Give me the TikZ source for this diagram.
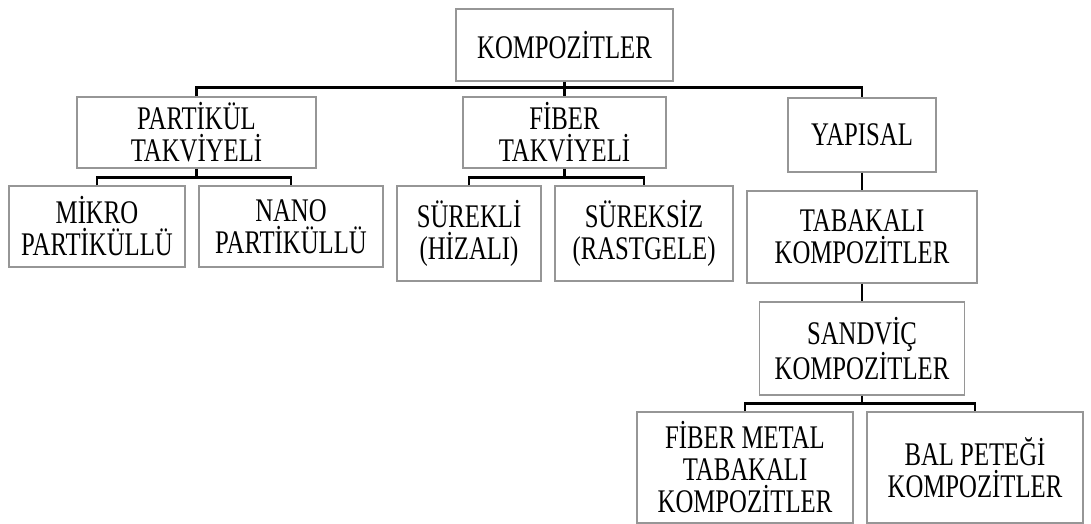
\documentclass[tikz,border=0pt]{standalone}
\usepackage{fontspec}
\usepackage{xcolor}
\usepackage{tikz}
\setmainfont{Liberation Serif}[FakeStretch=0.75]
\definecolor{boxgray}{RGB}{150, 150, 150}

\tikzset{
	kbox/.style = {draw = boxgray, line width = 1.3pt, inner sep = 0pt, align = center,
		font = \fontsize{33}{32}\selectfont},
	kline/.style = {line width = 2.4pt, black}
}

\begin{document}
\begin{tikzpicture}[x = 1pt, y = -1pt]
	\useasboundingbox (0,0) rectangle (1091,524);
	\node (root) at (564.5,45) [kbox, minimum width = 217pt, minimum height = 72pt] {KOMPOZİTLER};
	\node (part) at (196.5,132.5) [kbox, minimum width = 239pt, minimum height = 71pt] {PARTİKÜL\\TAKVİYELİ};
	\node (fib) at (564.5,132.5) [kbox, minimum width = 203pt, minimum height = 71pt] {FİBER\\TAKVİYELİ};
	\node (yap) at (862,135) [kbox, minimum width = 148pt, minimum height = 74pt] {YAPISAL};
	\node (mikro) at (97,226.5) [kbox, minimum width = 176pt, minimum height = 81pt] {MİKRO\\PARTİKÜLLÜ};
	\node (nano) at (291,226.5) [kbox, minimum width = 184pt, minimum height = 81pt] {NANO\\PARTİKÜLLÜ};
	\node (surekli) at (469,233.5) [kbox, minimum width = 144pt, minimum height = 95pt] {SÜREKLİ\\(HİZALI)};
	\node (sureksiz) at (644,233.5) [kbox, minimum width = 178pt, minimum height = 95pt] {SÜREKSİZ\\(RASTGELE)};
	\node (tab) at (862,237) [kbox, minimum width = 230pt, minimum height = 92pt] {TABAKALI\\KOMPOZİTLER};
	\node (sand) at (862,348.5) [kbox, minimum width = 205pt, minimum height = 93pt] {SANDVİÇ\\KOMPOZİTLER};
	\node (fml) at (745,467.5) [kbox, minimum width = 216pt, minimum height = 111pt] {FİBER METAL\\TABAKALI\\KOMPOZİTLER};
	\node (bal) at (975,467.5) [kbox, minimum width = 216pt, minimum height = 111pt] {BAL PETEĞİ\\KOMPOZİTLER};
	% connectors
	\draw[kline] (root.south) -- ++(0,6) coordinate (b1);
	\draw[kline] (part.north) |- (b1) -| (yap.north);
	\draw[kline] (b1) -- (fib.north);
	\draw[kline] (part.south) -- ++(0,9) coordinate (b2);
	\draw[kline] (mikro.north) |- (b2) -| (nano.north);
	\draw[kline] (fib.south) -- ++(0,9) coordinate (b3);
	\draw[kline] (surekli.north) |- (b3) -| (sureksiz.north);
	\draw[kline] (yap.south) -- (tab.north);
	\draw[kline] (tab.south) -- (sand.north);
	\draw[kline] (sand.south) -- ++(0,8) coordinate (b4);
	\draw[kline] (fml.north) |- (b4) -| (bal.north);
\end{tikzpicture}
\end{document}
